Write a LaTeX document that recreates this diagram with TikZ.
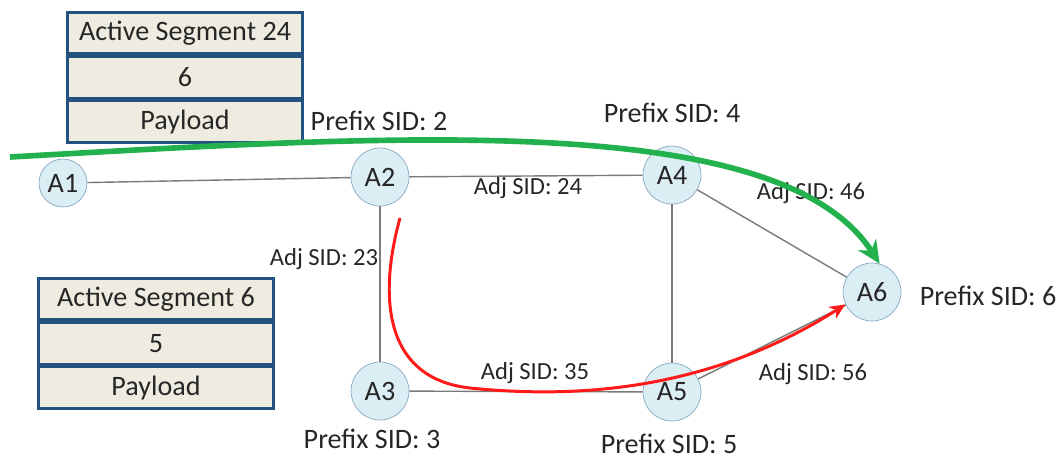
\documentclass[tikz,border=0pt]{standalone}
\usepackage{fontspec}
\setmainfont{Carlito}
\usepackage{xcolor}
\usepackage{tikz}
\usetikzlibrary{arrows.meta, positioning}

\definecolor{routerfill}{HTML}{DBEEF4}
\definecolor{routeredge}{HTML}{8AA6C0}
\definecolor{segfill}{HTML}{EEECE1}
\definecolor{segedge}{HTML}{24527F}
\definecolor{linkgray}{HTML}{7A7A7A}
\definecolor{labeltext}{HTML}{262626}
\definecolor{pathgreen}{HTML}{22B14C}
\definecolor{pathred}{HTML}{FF1A1A}

\begin{document}
\begin{tikzpicture}[
  x=0.02cm, y=-0.02cm,
  router/.style={circle, draw=routeredge, fill=routerfill, minimum size=1.16cm, inner sep=0pt, text=labeltext, font=\fontsize{16}{19}\selectfont},
  segrow/.style={rectangle, draw=segedge, line width=1.6pt, fill=segfill, minimum width=4.7cm, minimum height=0.83cm, inner sep=0pt, text=labeltext, font=\fontsize{16}{19}\selectfont},
  sid/.style={text=labeltext, font=\fontsize{16}{19}\selectfont},
  adj/.style={text=labeltext, font=\fontsize{14}{17}\selectfont},
  link/.style={draw=linkgray, line width=0.8pt}
]
  \useasboundingbox (0,0) rectangle (1060,458);

  % label stacks
  \node[segrow] (top1) at (185,33) {Active Segment 24};
  \node[segrow, below=0pt of top1] (top2) {6};
  \node[segrow, below=0pt of top2] (top3) {Payload};
  \node[segrow] (low1) at (156,299) {Active Segment 6};
  \node[segrow, below=0pt of low1] (low2) {5};
  \node[segrow, below=0pt of low2] (low3) {Payload};

  % routers
  \node[router, minimum size=0.96cm] (a1) at (63,183) {A1};
  \node[router] (a2) at (380,177) {A2};
  \node[router] (a3) at (380,391) {A3};
  \node[router] (a4) at (672,175) {A4};
  \node[router] (a5) at (672,392) {A5};
  \node[router] (a6) at (872,292) {A6};

  \draw[link] (a1) -- (a2);
  \draw[link] (a2) -- (a4);
  \draw[link] (a2) -- (a3);
  \draw[link] (a4) -- (a5);
  \draw[link] (a3) -- (a5);
  \draw[link] (a4) -- (a6);
  \draw[link] (a5) -- (a6);

  % SID labels
  \node[sid] (p2) at (379,121) {Prefix SID: 2};
  \node[sid] (p4) at (672,113) {Prefix SID: 4};
  \node[sid] (p6) at (988,296) {Prefix SID: 6};
  \node[sid] (p3) at (372,439) {Prefix SID: 3};
  \node[sid] (p5) at (669,444) {Prefix SID: 5};
  \node[adj] (j24) at (528,188) {Adj SID: 24};
  \node[adj] (j46) at (811,193) {Adj SID: 46};
  \node[adj] (j23) at (324,259) {Adj SID: 23};
  \node[adj] (j35) at (535,373) {Adj SID: 35};
  \node[adj] (j56) at (813,374) {Adj SID: 56};

  % paths
  \coordinate (g0) at (10,157);
  \coordinate (r0) at (400,218);
  \draw[pathgreen, line width=3.2pt, -{Stealth[length=13pt, width=12pt]}]
    (g0) .. controls (400,135) and (780,110) .. (a6.75);
  \draw[pathred, line width=1.7pt, -{Stealth[length=9pt, width=8pt]}]
    (r0) .. controls (380,290) and (380,378) .. (470,388)
    .. controls (560,397) and (700,397) .. (a6.205);
\end{tikzpicture}
\end{document}
